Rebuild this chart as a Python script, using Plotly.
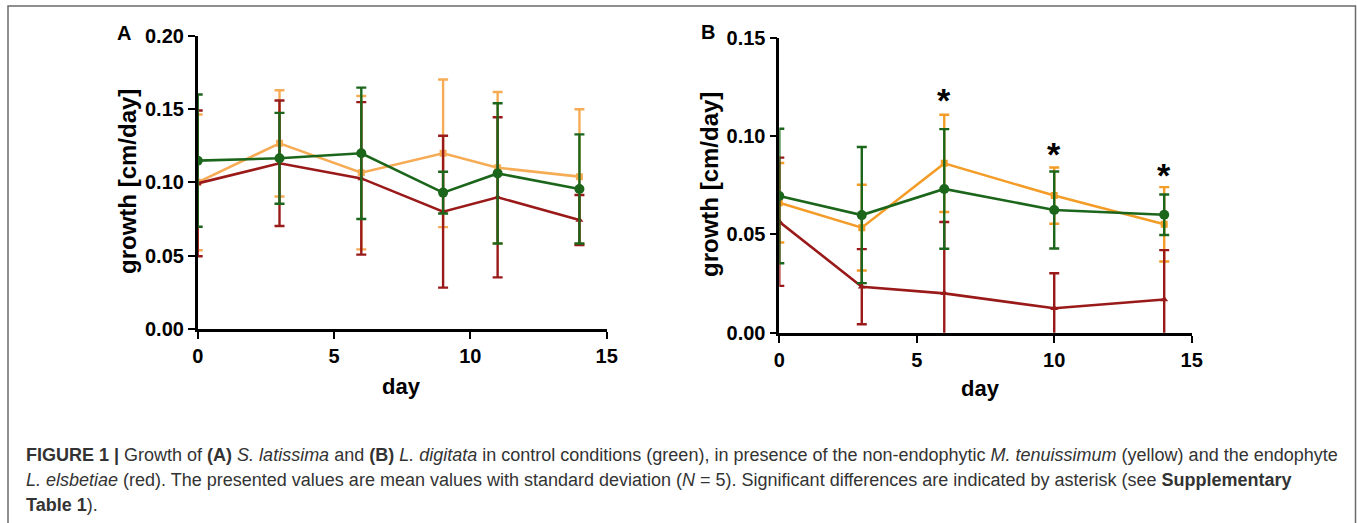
import plotly.graph_objects as go

W, H = 1357, 523

# ---------------- data ----------------
days_a = [0, 3, 6, 9, 11, 14]
ctrl_a = [0.1148, 0.1164, 0.1198, 0.0930, 0.1061, 0.0955]
ctrl_a_sd = [0.0451, 0.0310, 0.0448, 0.0142, 0.0478, 0.0372]
mten_a = [0.1000, 0.1266, 0.1066, 0.1198, 0.1100, 0.1039]
mten_a_sd = [0.0463, 0.0362, 0.0523, 0.0503, 0.0516, 0.0459]
lels_a = [0.0993, 0.1130, 0.1027, 0.0800, 0.0898, 0.0743]
lels_a_sd = [0.0497, 0.0428, 0.0520, 0.0518, 0.0546, 0.0171]

days_b = [0, 3, 6, 10, 14]
ctrl_b = [0.0695, 0.0598, 0.0731, 0.0624, 0.0600]
ctrl_b_sd = [0.0342, 0.0346, 0.0304, 0.0196, 0.0103]
mten_b = [0.0661, 0.0534, 0.0861, 0.0697, 0.0551]
mten_b_sd = [0.0202, 0.0218, 0.0247, 0.0143, 0.0189]
lels_b = [0.0564, 0.0234, 0.0200, 0.0124, 0.0169]
lels_b_sd = [0.0326, 0.0191, 0.0363, 0.0178, 0.0251]

sig_days_b = [6, 10, 14]
sig_y_b = [0.1225, 0.0949, 0.0844]

x_ticks = [0, 5, 10, 15]
ya_ticks = [0.0, 0.05, 0.10, 0.15, 0.20]
yb_ticks = [0.0, 0.05, 0.10, 0.15]

GREEN = "#1c661c"
ORANGE_A = "#f6ab55"
ORANGE_B = "#f49c28"
RED = "#9a1a1a"

def px_x(p):
    return p / W

def px_y(p):
    return 1 - p / H

fig = go.Figure()

def add_series(x, y, sd, color, symbol, size, xa, ya):
    fig.add_trace(go.Scatter(
        x=x, y=y, mode="lines+markers",
        line=dict(color=color, width=2.6),
        marker=dict(color=color, symbol=symbol, size=size),
        error_y=dict(type="data", array=sd, visible=True, color=color,
                     thickness=2.4, width=5),
        xaxis=xa, yaxis=ya, showlegend=False, cliponaxis=True))

add_series(days_a, mten_a, mten_a_sd, ORANGE_A, "square", 7, "x", "y")
add_series(days_a, lels_a, lels_a_sd, RED, "triangle-up", 7, "x", "y")
add_series(days_a, ctrl_a, ctrl_a_sd, GREEN, "circle", 10, "x", "y")

add_series(days_b, mten_b, mten_b_sd, ORANGE_B, "square", 7, "x2", "y2")
add_series(days_b, lels_b, lels_b_sd, RED, "triangle-up", 7, "x2", "y2")
add_series(days_b, ctrl_b, ctrl_b_sd, GREEN, "circle", 10, "x2", "y2")

tickfont = dict(family="Liberation Sans", size=20, color="black", weight="bold")
axis_common = dict(showgrid=False, zeroline=False, showline=True, linecolor="black",
                   linewidth=2.6, ticks="outside", ticklen=7, tickwidth=2.4,
                   tickcolor="black", tickfont=tickfont, automargin=False)

fig.update_layout(
    width=W, height=H, margin=dict(l=0, r=0, t=0, b=0, pad=0),
    paper_bgcolor="white", plot_bgcolor="white",
    xaxis=dict(domain=[px_x(197.7), px_x(606.7)], range=[0, 15], tickvals=x_ticks,
               anchor="y", **axis_common),
    yaxis=dict(domain=[px_y(329), px_y(35.7)], range=[0, 0.20], tickvals=ya_ticks,
               tickformat=".2f", anchor="x", **axis_common),
    xaxis2=dict(domain=[px_x(779.3), px_x(1191.7)], range=[0, 15], tickvals=x_ticks,
                anchor="y2", **axis_common),
    yaxis2=dict(domain=[px_y(332.7), px_y(37.7)], range=[0, 0.15], tickvals=yb_ticks,
                tickformat=".2f", anchor="x2", **axis_common),
)

ann = []
for (xc, yc, txt, ang, sz) in [(127, 182, "<b>growth [cm/day]</b>", -90, 24),
                               (710, 185, "<b>growth [cm/day]</b>", -90, 24),
                               (401.7, 386.7, "<b>day</b>", 0, 22),
                               (980, 388, "<b>day</b>", 0, 22)]:
    ann.append(dict(x=px_x(xc), y=px_y(yc), xref="paper", yref="paper", text=txt,
                    textangle=ang, showarrow=False, xanchor="center", yanchor="middle",
                    font=dict(family="Liberation Sans", size=sz, color="black")))
for (xc, yc, txt) in [(124, 33, "<b>A</b>"), (708, 32, "<b>B</b>")]:
    ann.append(dict(x=px_x(xc), y=px_y(yc), xref="paper", yref="paper", text=txt,
                    showarrow=False, xanchor="center", yanchor="middle",
                    font=dict(family="Liberation Sans", size=20, color="black")))
for d, v in zip(sig_days_b, sig_y_b):
    ann.append(dict(x=d, y=v, xref="x2", yref="y2", text="<b>*</b>", showarrow=False,
                    xanchor="center", yanchor="middle", yshift=-8,
                    font=dict(family="Liberation Sans", size=34, color="black")))

cap_lines = [
    "<b>FIGURE 1 |</b> Growth of <b>(A)</b> <i>S. latissima</i> and <b>(B)</b> <i>L. digitata</i> in control conditions (green), in presence of the non-endophytic <i>M. tenuissimum</i> (yellow) and the endophyte",
    "<i>L. elsbetiae</i> (red). The presented values are mean values with standard deviation (<i>N</i> = 5). Significant differences are indicated by asterisk (see <b>Supplementary</b>",
    "<b>Table 1</b>).",
]
cap_y = [455, 480, 505]
for t, yc in zip(cap_lines, cap_y):
    ann.append(dict(x=px_x(24), y=px_y(yc), xref="paper", yref="paper", text=t,
                    showarrow=False, xanchor="left", yanchor="middle", align="left",
                    font=dict(family="Liberation Sans", size=18, color="#333333")))

fig.update_layout(annotations=ann)

fig.add_shape(type="rect", xref="paper", yref="paper",
              x0=px_x(8), x1=px_x(1355.5), y0=px_y(540), y1=px_y(6),
              line=dict(color="#6a6a6a", width=1.5), fillcolor="rgba(0,0,0,0)")

fig.write_html("out.html", config={"displayModeBar": False},
               post_script="document.body.style.margin='0';document.body.style.overflow='hidden';")
